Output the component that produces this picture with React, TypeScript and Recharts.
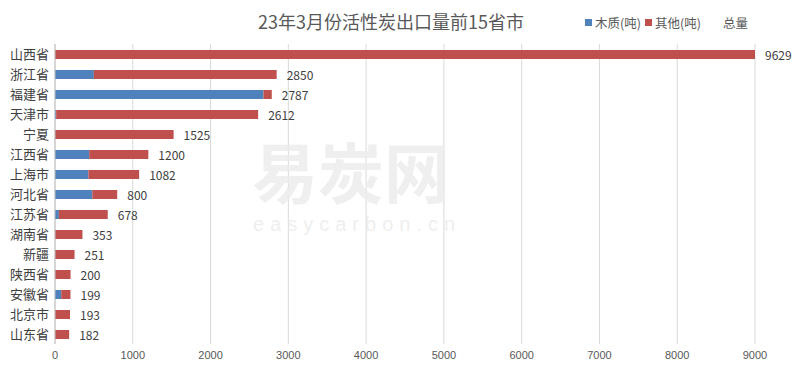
import { BarChart, Bar, XAxis, YAxis, CartesianGrid, LabelList } from 'recharts';

// 23年3月份 活性炭出口量 (吨), top 15 provinces
const provinces = ['山西省', '浙江省', '福建省', '天津市', '宁夏', '江西省', '上海市', '河北省', '江苏省', '湖南省', '新疆', '陕西省', '安徽省', '北京市', '山东省'];
const woodValues = [0, 500, 2680, 15, 0, 440, 430, 480, 50, 0, 0, 0, 80, 0, 0];
const otherValues = [9629, 2350, 107, 2597, 1525, 760, 652, 320, 628, 353, 251, 200, 119, 193, 182];
const totalValues = [9629, 2850, 2787, 2612, 1525, 1200, 1082, 800, 678, 353, 251, 200, 199, 193, 182];
const xTicks = [0, 1000, 2000, 3000, 4000, 5000, 6000, 7000, 8000, 9000];

const W = 800;
const H = 379;
const MARGIN = { top: 44, right: 45, left: 0, bottom: 10 };
const PLOT_RIGHT = W - MARGIN.right;

const BLUE = '#4f81bd';
const RED = '#c0504d';
const FONT = '"Noto Sans CJK SC", "Liberation Sans", sans-serif';

const data = provinces.map((name, i) => ({
  name,
  wood: woodValues[i],
  other: otherValues[i],
  total: totalValues[i],
}));

// total label sits just past the end of the stack; the 9629 bar runs off the axis so clamp to plot edge
const TotalLabel = (props: any) => {
  const { x, y, width, height, index } = props;
  const end = Math.min(Number(x) + Number(width), PLOT_RIGHT);
  return (
    <text
      x={end + 10}
      y={Number(y) + Number(height) / 2}
      dominantBaseline="central"
      fontSize={12}
      fill="#404040"
      fontFamily={FONT}
    >
      {totalValues[index]}
    </text>
  );
};

const legendItems = [
  { label: '木质(吨)', color: BLUE },
  { label: '其他(吨)', color: RED },
  { label: '总量', color: 'transparent' },
];

export default function App() {
  return (
    <div style={{ position: 'relative', width: W, height: H, background: '#fff' }}>
      <style>{'body{margin:0}'}</style>
      <div
        style={{
          position: 'absolute',
          left: 0,
          top: 8,
          width: 782,
          textAlign: 'center',
          fontFamily: FONT,
          fontSize: 18,
          color: '#595959',
        }}
      >
        23年3月份活性炭出口量前15省市
      </div>
      <div
        style={{
          position: 'absolute',
          top: 13,
          left: 585,
          display: 'flex',
          alignItems: 'center',
          fontFamily: FONT,
          fontSize: 12.5,
          color: '#595959',
        }}
      >
        {legendItems.map((it, i) => (
          <div key={i} style={{ display: 'flex', alignItems: 'center', marginRight: i === 1 ? 12 : 4 }}>
            <span style={{ width: 7, height: 7, background: it.color, display: 'inline-block', marginRight: 3 }} />
            <span>{it.label}</span>
          </div>
        ))}
      </div>
      <div style={{ position: 'absolute', left: 0, top: 0 }}>
        <BarChart width={W} height={H} data={data} layout="vertical" margin={MARGIN} barSize={9}>
          <CartesianGrid horizontal={false} stroke="#d9d9d9" />
          <XAxis
            type="number"
            domain={[0, 9000]}
            ticks={xTicks}
            allowDataOverflow
            axisLine={false}
            tickLine={false}
            tickSize={5}
            height={25}
            interval={0}
            tick={{ fill: '#595959', fontSize: 11, fontFamily: '"Liberation Sans", sans-serif' }}
          />
          <YAxis
            type="category"
            dataKey="name"
            width={55}
            axisLine={{ stroke: '#bfbfbf' }}
            tickLine={false}
            tickSize={4}
            interval={0}
            tick={{ fill: '#404040', fontSize: 13, fontFamily: FONT }}
          />
          <Bar dataKey="wood" name="木质(吨)" stackId="a" fill={BLUE} isAnimationActive={false} />
          <Bar dataKey="other" name="其他(吨)" stackId="a" fill={RED} isAnimationActive={false}>
            <LabelList dataKey="total" content={TotalLabel} />
          </Bar>
        </BarChart>
      </div>
      {/* faint site watermark, drawn over the grid */}
      <div style={{ position: 'absolute', left: 252, top: 136, lineHeight: 1, fontFamily: FONT, fontSize: 66, fontWeight: 700, color: 'rgba(236,236,236,0.85)', pointerEvents: 'none' }}>
        易炭网
      </div>
      <div style={{ position: 'absolute', left: 253, top: 214, lineHeight: 1, fontFamily: '"Liberation Sans", sans-serif', fontSize: 20, color: 'rgba(236,236,236,0.85)', letterSpacing: 6, pointerEvents: 'none' }}>
        easycarbon.cn
      </div>
    </div>
  );
}
